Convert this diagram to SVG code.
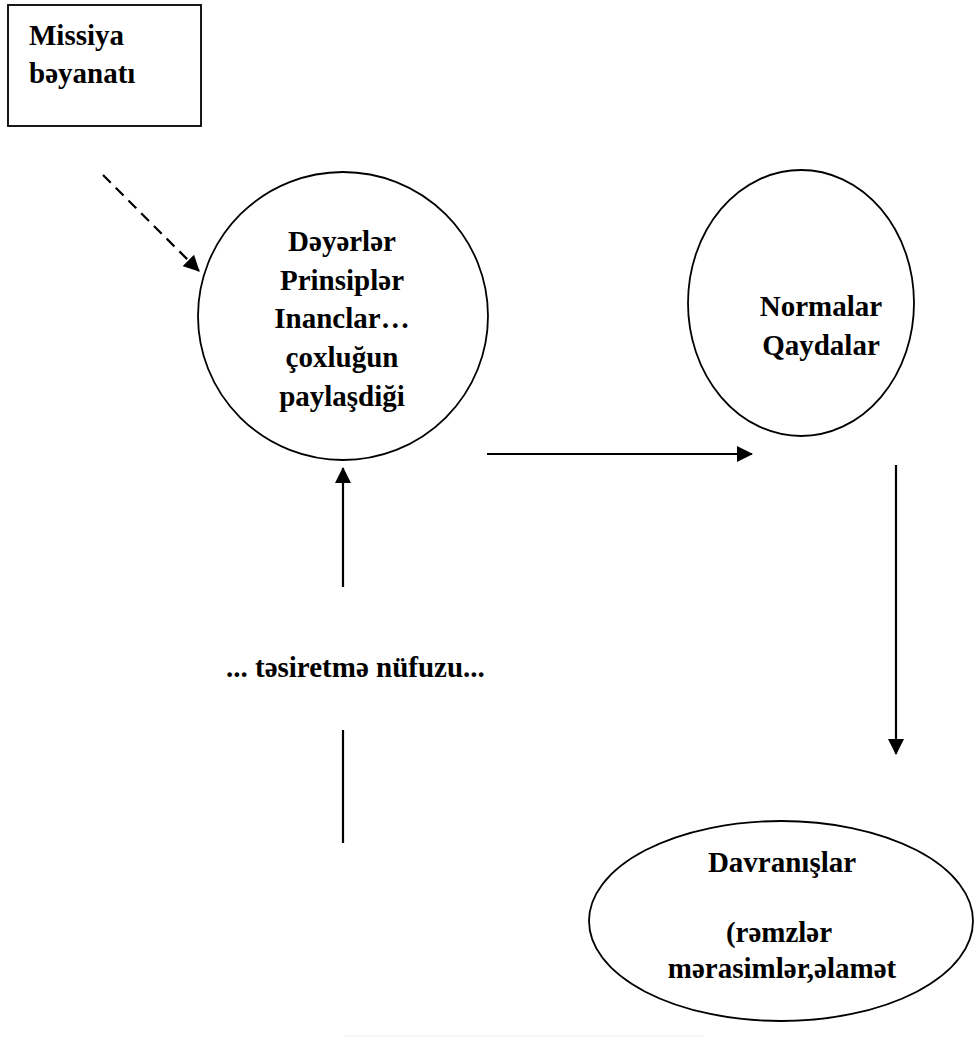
<svg xmlns="http://www.w3.org/2000/svg" width="978" height="1037" viewBox="0 0 978 1037">
  <style>
    .lbl { font-family: "Liberation Serif", "DejaVu Serif", "Times New Roman", serif; font-weight: bold; font-size: 29px; fill: #000; }
    .mid { text-anchor: middle; }
    .shape { fill: #fff; stroke: #000; stroke-width: 1.8; }
    .conn { fill: none; stroke: #000; stroke-width: 2.2; }
    .dash { stroke-dasharray: 11 7; }
  </style>
  <defs>
    <marker id="head" viewBox="0 0 16 16" refX="15" refY="8" markerWidth="16" markerHeight="16" markerUnits="userSpaceOnUse" orient="auto">
      <path d="M0,0 L16,8 L0,16 Z" fill="#000"/>
    </marker>
  </defs>
  <rect width="978" height="1037" fill="#fff"/>

  <g id="connectors">
    <!-- dashed link from the mission box into the values circle -->
    <line class="conn dash" x1="103" y1="175" x2="199" y2="271" marker-end="url(#head)"/>
    <!-- values -> norms -->
    <line class="conn" x1="487" y1="454" x2="752" y2="454" marker-end="url(#head)"/>
    <!-- norms -> behaviours -->
    <line class="conn" x1="896" y1="465" x2="896" y2="754" marker-end="url(#head)"/>
    <!-- influence -> values -->
    <line class="conn" x1="343" y1="587" x2="343" y2="468" marker-end="url(#head)"/>
    <line class="conn" x1="343" y1="730" x2="343" y2="843"/>
    <line x1="344" y1="1036" x2="703" y2="1036" stroke="#ececec" stroke-width="1"/>
  </g>

  <g id="mission">
    <rect class="shape" x="8" y="5" width="193" height="121"/>
    <text class="lbl" x="29" y="45">Missiya</text>
    <text class="lbl" x="29" y="83">bəyanatı</text>
  </g>

  <g id="values">
    <ellipse class="shape" cx="343" cy="316" rx="145" ry="144"/>
    <text class="lbl mid" x="342" y="251">Dəyərlər</text>
    <text class="lbl mid" x="342" y="290">Prinsiplər</text>
    <text class="lbl mid" x="342" y="328">Inanclar…</text>
    <text class="lbl mid" x="342" y="367">çoxluğun</text>
    <text class="lbl mid" x="342" y="406">paylaşdiği</text>
  </g>

  <g id="norms">
    <ellipse class="shape" cx="801" cy="303" rx="113" ry="133"/>
    <text class="lbl mid" x="821" y="316">Normalar</text>
    <text class="lbl mid" x="821" y="355">Qaydalar</text>
  </g>

  <g id="influence">
    <text class="lbl" x="226" y="677">... təsiretmə nüfuzu...</text>
  </g>

  <g id="behaviours">
    <ellipse class="shape" cx="781" cy="921" rx="192" ry="100"/>
    <text class="lbl mid" x="782" y="872">Davranışlar</text>
    <text class="lbl mid" x="779" y="942">(rəmzlər</text>
    <text class="lbl mid" x="782" y="978">mərasimlər,əlamət</text>
  </g>
</svg>
